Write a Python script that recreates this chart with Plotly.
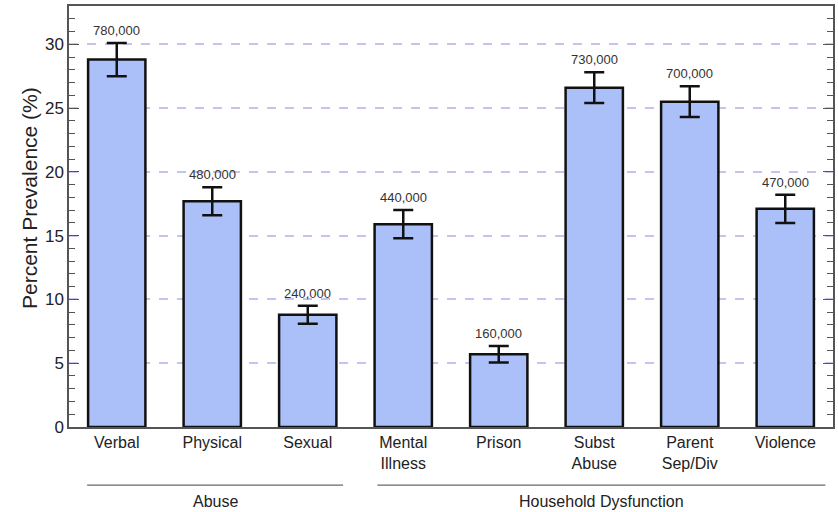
import plotly.graph_objects as go

categories = ["Verbal", "Physical", "Sexual", "Mental<br>Illness", "Prison",
              "Subst<br>Abuse", "Parent<br>Sep/Div", "Violence"]
prevalence = [28.8, 17.7, 8.8, 15.9, 5.7, 26.6, 25.5, 17.1]
error = [1.3, 1.1, 0.7, 1.1, 0.65, 1.2, 1.2, 1.1]
counts = ["780,000", "480,000", "240,000", "440,000", "160,000",
          "730,000", "700,000", "470,000"]
groups = [("Abuse", -0.31, 2.37), ("Household Dysfunction", 2.73, 7.42)]

fig = go.Figure()
fig.add_trace(go.Bar(
    x=list(range(len(categories))), y=prevalence,
    marker=dict(color="#abc0f9", line=dict(color="#111111", width=2.5)),
    error_y=dict(type="data", array=error, visible=True, color="#111111",
                 thickness=2.5, width=10),
    width=0.6, hoverinfo="skip",
))

for i, (v, e, c) in enumerate(zip(prevalence, error, counts)):
    fig.add_annotation(x=i, y=v + e, text=c, showarrow=False, yanchor="bottom",
                       yshift=3, font=dict(size=13, color="#333333"))

for name, x0, x1 in groups:
    fig.add_shape(type="line", xref="x", yref="paper", x0=x0, x1=x1,
                  y0=-0.138, y1=-0.138, line=dict(color="#444444", width=1))
    fig.add_annotation(xref="x", yref="paper", x=(x0 + x1) / 2, y=-0.176,
                       text=name, showarrow=False, yanchor="middle",
                       font=dict(size=16, color="#222222"))

fig.add_annotation(xref="paper", yref="paper", x=-0.051, y=0.544,
                   text="Percent Prevalence (%)", textangle=-90, showarrow=False,
                   xanchor="center", yanchor="middle",
                   font=dict(size=21, color="#222222"))

fig.update_layout(
    width=838, height=512,
    margin=dict(l=69, r=3, t=6, b=85),
    paper_bgcolor="white", plot_bgcolor="white",
    font=dict(family="Arial, Liberation Sans, sans-serif", color="#222222"),
    showlegend=False,
    bargap=0.4,
)
fig.update_xaxes(
    tickmode="array", tickvals=list(range(len(categories))), ticktext=categories,
    range=[-0.5, 7.5], showline=True, linecolor="#555555", linewidth=1.5,
    mirror=True, ticks="", tickfont=dict(size=16, color="#222222"),
    showgrid=False, zeroline=False,
)
fig.update_yaxes(
    range=[0, 33], tickvals=[0, 5, 10, 15, 20, 25, 30],
    showline=True, linecolor="#555555", linewidth=1.5, mirror="ticks",
    ticks="inside", ticklen=10, tickcolor="#555555", tickwidth=1,
    minor=dict(dtick=1, ticks="inside", ticklen=6, tickcolor="#555555", showgrid=False),
    tickfont=dict(size=17, color="#222222"),
    showgrid=True, gridcolor="#c4c4f2", griddash="dash", gridwidth=1.5,
    zeroline=False,
)

fig.write_html("out.html", config={"displayModeBar": False},
               post_script="document.body.style.margin='0px';")
